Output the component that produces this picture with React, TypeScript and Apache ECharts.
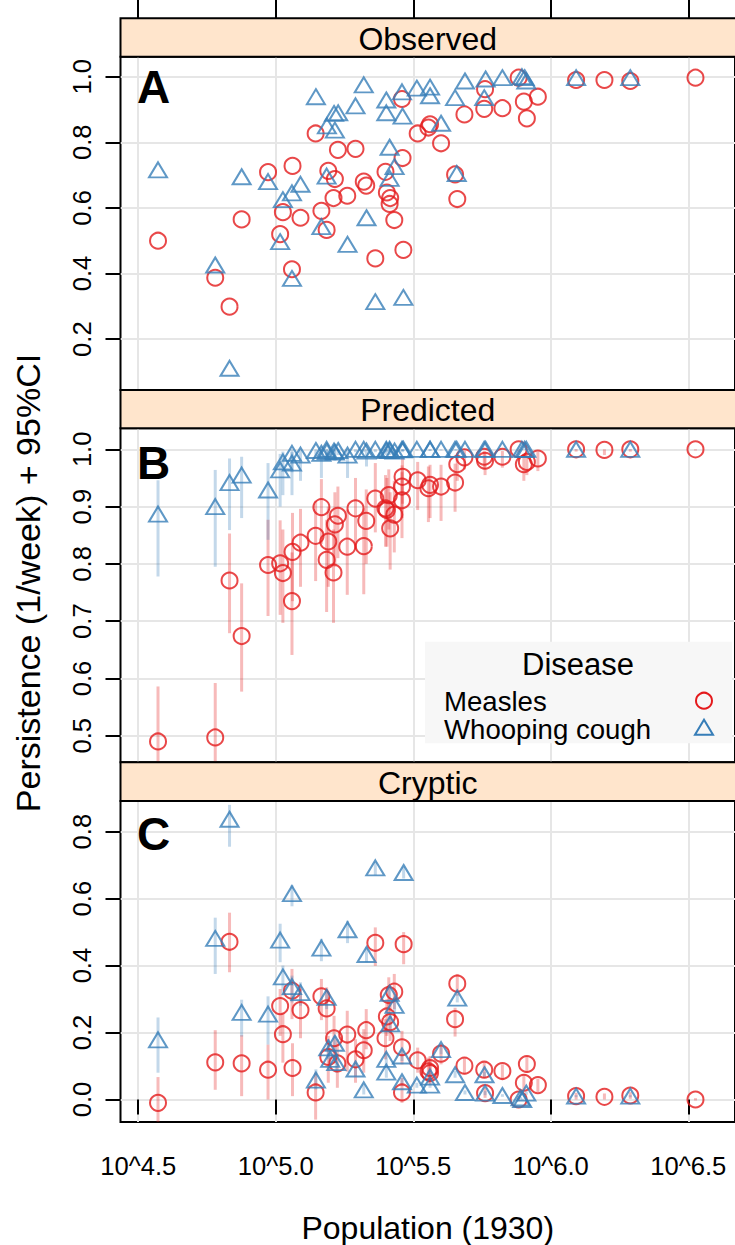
import React, { useEffect, useRef } from "react";
import * as echarts from "echarts";

// Persistence of measles and whooping cough vs. city population (log10 scale)

const RED = "#E41A1C";
const BLUE = "#377EB8";
const RED_BAR = "rgba(228,26,28,0.30)";
const BLUE_BAR = "rgba(55,126,184,0.30)";
const GRID_COLOR = "#E6E6E6";
const STRIP_FILL = "#FFE5CC";
const FONT = "'Liberation Sans', Arial, Helvetica, sans-serif";

const xTicks = [4.5, 5.0, 5.5, 6.0, 6.5];
const yTicksObserved = [0.2, 0.4, 0.6, 0.8, 1.0];
const yTicksPredicted = [0.5, 0.6, 0.7, 0.8, 0.9, 1.0];
const yTicksCryptic = [0.0, 0.2, 0.4, 0.6, 0.8];

const panelTitles = ["Observed", "Predicted", "Cryptic"];
const panelLetters = ["A", "B", "C"];
const diseases = ["Measles", "Whooping cough"];

// [log10 population, persistence]
const observedMeasles = [
  [4.572, 0.5], [4.78, 0.387], [4.832, 0.299], [4.876, 0.565], [4.972, 0.709],
  [5.016, 0.52], [5.026, 0.587], [5.059, 0.413], [5.061, 0.728], [5.09, 0.57],
  [5.145, 0.827], [5.166, 0.591], [5.185, 0.533], [5.191, 0.713], [5.21, 0.63],
  [5.215, 0.688], [5.226, 0.777], [5.26, 0.637], [5.29, 0.78], [5.32, 0.68],
  [5.329, 0.668], [5.362, 0.446], [5.399, 0.71], [5.404, 0.647], [5.414, 0.612],
  [5.416, 0.63], [5.431, 0.563], [5.459, 0.932], [5.461, 0.752], [5.464, 0.472],
  [5.516, 0.827], [5.555, 0.845], [5.561, 0.855], [5.601, 0.797], [5.652, 0.702],
  [5.66, 0.627], [5.686, 0.885], [5.758, 0.902], [5.761, 0.962], [5.824, 0.904],
  [5.883, 0.997], [5.902, 0.924], [5.913, 0.873], [5.953, 0.939], [6.092, 0.99],
  [6.195, 0.99], [6.289, 0.987], [6.526, 0.997],
];

const observedWhooping = [
  [4.572, 0.716], [4.78, 0.426], [4.832, 0.111], [4.876, 0.695], [4.972, 0.68],
  [5.016, 0.497], [5.026, 0.625], [5.059, 0.646], [5.059, 0.385], [5.09, 0.672],
  [5.146, 0.939], [5.166, 0.543], [5.185, 0.697], [5.186, 0.85], [5.212, 0.888],
  [5.215, 0.837], [5.227, 0.89], [5.261, 0.489], [5.29, 0.911], [5.32, 0.975],
  [5.33, 0.57], [5.362, 0.314], [5.402, 0.929], [5.402, 0.89], [5.414, 0.785],
  [5.414, 0.69], [5.432, 0.726], [5.459, 0.954], [5.461, 0.88], [5.464, 0.327],
  [5.513, 0.965], [5.561, 0.968], [5.561, 0.942], [5.601, 0.858], [5.652, 0.936],
  [5.658, 0.705], [5.688, 0.987], [5.763, 0.993], [5.758, 0.936], [5.824, 0.997],
  [5.895, 1.0], [5.905, 0.997], [5.911, 0.987], [6.092, 0.997], [6.289, 0.997],
];

// [log10 population, persistence, lower 95% CI, upper 95% CI]
const predictedMeasles = [
  [4.572, 0.49, 0.4, 0.586], [4.78, 0.497, 0.4, 0.592], [4.832, 0.771, 0.679, 0.853],
  [4.876, 0.674, 0.577, 0.766], [4.972, 0.798, 0.709, 0.877], [5.016, 0.801, 0.711, 0.876],
  [5.026, 0.784, 0.697, 0.86], [5.059, 0.735, 0.641, 0.82], [5.061, 0.821, 0.735, 0.889],
  [5.09, 0.837, 0.76, 0.896], [5.145, 0.849, 0.77, 0.91], [5.166, 0.899, 0.835, 0.948],
  [5.185, 0.807, 0.716, 0.877], [5.191, 0.839, 0.76, 0.9], [5.21, 0.785, 0.697, 0.86],
  [5.215, 0.869, 0.795, 0.925], [5.226, 0.884, 0.81, 0.935], [5.26, 0.83, 0.746, 0.895],
  [5.29, 0.897, 0.825, 0.95], [5.32, 0.831, 0.747, 0.897], [5.329, 0.875, 0.8, 0.93],
  [5.362, 0.914, 0.855, 0.976], [5.399, 0.897, 0.83, 0.955], [5.404, 0.894, 0.83, 0.95],
  [5.411, 0.92, 0.86, 0.965], [5.416, 0.862, 0.79, 0.925], [5.431, 0.886, 0.82, 0.945],
  [5.459, 0.911, 0.845, 0.96], [5.459, 0.935, 0.88, 0.972], [5.461, 0.952, 0.905, 0.985],
  [5.516, 0.946, 0.894, 0.978], [5.555, 0.932, 0.873, 0.97], [5.561, 0.938, 0.88, 0.973],
  [5.601, 0.935, 0.875, 0.973], [5.652, 0.942, 0.891, 0.975], [5.66, 0.974, 0.945, 0.992],
  [5.686, 0.986, 0.965, 0.997], [5.758, 0.987, 0.965, 0.997], [5.761, 0.98, 0.955, 0.994],
  [5.824, 0.987, 0.968, 0.997], [5.883, 1.0, 0.995, 1.0], [5.902, 0.974, 0.945, 0.992],
  [5.913, 0.978, 0.955, 0.993], [5.953, 0.984, 0.962, 0.996], [6.092, 1.0, 0.996, 1.0],
  [6.195, 0.999, 0.99, 1.0], [6.289, 1.0, 0.996, 1.0], [6.526, 1.0, 0.998, 1.0],
];

const predictedWhooping = [
  [4.572, 0.887, 0.778, 0.946], [4.78, 0.9, 0.795, 0.964], [4.832, 0.942, 0.859, 0.984],
  [4.876, 0.955, 0.88, 0.987], [4.972, 0.929, 0.842, 0.976], [5.016, 0.964, 0.9, 0.992],
  [5.026, 0.978, 0.92, 0.996], [5.059, 0.993, 0.96, 1.0], [5.059, 0.976, 0.92, 0.995],
  [5.09, 0.99, 0.945, 0.999], [5.146, 0.998, 0.985, 1.0], [5.166, 0.993, 0.95, 1.0],
  [5.185, 1.0, 0.99, 1.0], [5.186, 0.996, 0.98, 1.0], [5.212, 0.997, 0.985, 1.0],
  [5.215, 0.995, 0.98, 1.0], [5.227, 0.998, 0.99, 1.0], [5.261, 0.99, 0.95, 0.999],
  [5.29, 1.0, 0.995, 1.0], [5.32, 1.0, 0.995, 1.0], [5.33, 0.997, 0.97, 1.0],
  [5.362, 1.0, 0.995, 1.0], [5.402, 1.0, 0.995, 1.0], [5.402, 0.998, 0.99, 1.0],
  [5.414, 1.0, 0.995, 1.0], [5.414, 0.998, 0.99, 1.0], [5.432, 0.997, 0.99, 1.0],
  [5.459, 1.0, 0.997, 1.0], [5.461, 0.999, 0.995, 1.0], [5.464, 1.0, 0.997, 1.0],
  [5.513, 1.0, 0.998, 1.0], [5.561, 1.0, 0.998, 1.0], [5.561, 1.0, 0.997, 1.0],
  [5.601, 1.0, 0.998, 1.0], [5.652, 1.0, 0.998, 1.0], [5.658, 1.0, 0.998, 1.0],
  [5.688, 1.0, 0.999, 1.0], [5.763, 1.0, 0.999, 1.0], [5.758, 1.0, 0.999, 1.0],
  [5.824, 1.0, 0.999, 1.0], [5.895, 1.0, 0.999, 1.0], [5.905, 1.0, 0.999, 1.0],
  [5.911, 1.0, 0.999, 1.0], [6.092, 1.0, 0.999, 1.0], [6.289, 1.0, 0.999, 1.0],
];

const crypticMeasles = [
  [4.572, -0.01, -0.08, 0.067], [4.78, 0.111, 0.029, 0.207], [4.832, 0.471, 0.38, 0.558],
  [4.876, 0.108, 0.01, 0.192], [4.972, 0.089, 0.0, 0.164], [5.016, 0.279, 0.19, 0.33],
  [5.026, 0.195, 0.11, 0.26], [5.059, 0.325, 0.24, 0.39], [5.061, 0.094, 0.01, 0.168],
  [5.09, 0.267, 0.183, 0.33], [5.145, 0.021, -0.06, 0.08], [5.166, 0.308, 0.237, 0.36],
  [5.185, 0.272, 0.195, 0.335], [5.191, 0.127, 0.05, 0.19], [5.212, 0.183, 0.11, 0.25],
  [5.224, 0.108, 0.035, 0.18], [5.26, 0.194, 0.083, 0.265], [5.29, 0.12, 0.05, 0.18],
  [5.32, 0.147, 0.08, 0.21], [5.329, 0.207, 0.15, 0.27], [5.362, 0.468, 0.399, 0.514],
  [5.399, 0.183, 0.12, 0.24], [5.404, 0.248, 0.19, 0.3], [5.411, 0.312, 0.255, 0.365],
  [5.416, 0.231, 0.175, 0.285], [5.431, 0.322, 0.27, 0.375], [5.459, 0.021, -0.01, 0.065],
  [5.459, 0.156, 0.105, 0.205], [5.465, 0.464, 0.404, 0.5], [5.516, 0.117, 0.08, 0.155],
  [5.555, 0.084, 0.05, 0.125], [5.561, 0.094, 0.06, 0.13], [5.561, 0.079, 0.045, 0.115],
  [5.601, 0.137, 0.105, 0.165], [5.652, 0.24, 0.188, 0.274], [5.66, 0.346, 0.31, 0.375],
  [5.686, 0.101, 0.075, 0.125], [5.758, 0.089, 0.065, 0.11], [5.761, 0.019, 0.005, 0.035],
  [5.824, 0.085, 0.06, 0.105], [5.883, 0.0, -0.005, 0.01], [5.902, 0.05, 0.03, 0.075],
  [5.913, 0.106, 0.08, 0.13], [5.953, 0.043, 0.022, 0.062], [6.092, 0.01, 0.0, 0.02],
  [6.195, 0.008, 0.0, 0.018], [6.289, 0.012, 0.002, 0.022], [6.526, 0.0, -0.003, 0.004],
];

const crypticWhooping = [
  [4.572, 0.178, 0.08, 0.245], [4.78, 0.481, 0.375, 0.543], [4.832, 0.837, 0.755, 0.88],
  [4.876, 0.26, 0.188, 0.298], [4.972, 0.255, 0.164, 0.308], [5.016, 0.476, 0.41, 0.525],
  [5.026, 0.366, 0.31, 0.4], [5.059, 0.615, 0.577, 0.64], [5.059, 0.337, 0.29, 0.37],
  [5.09, 0.319, 0.28, 0.35], [5.146, 0.058, 0.03, 0.09], [5.166, 0.452, 0.413, 0.48],
  [5.185, 0.305, 0.27, 0.33], [5.191, 0.154, 0.12, 0.18], [5.198, 0.12, 0.09, 0.15],
  [5.215, 0.168, 0.14, 0.19], [5.22, 0.11, 0.08, 0.13], [5.261, 0.507, 0.467, 0.534],
  [5.29, 0.091, 0.07, 0.11], [5.32, 0.029, 0.015, 0.045], [5.33, 0.433, 0.41, 0.455],
  [5.362, 0.692, 0.67, 0.71], [5.402, 0.12, 0.1, 0.14], [5.402, 0.082, 0.065, 0.1],
  [5.414, 0.317, 0.29, 0.34], [5.416, 0.226, 0.2, 0.25], [5.432, 0.281, 0.26, 0.3],
  [5.459, 0.13, 0.115, 0.145], [5.459, 0.053, 0.04, 0.065], [5.465, 0.678, 0.66, 0.695],
  [5.513, 0.043, 0.035, 0.05], [5.561, 0.067, 0.055, 0.08], [5.561, 0.043, 0.035, 0.05],
  [5.601, 0.149, 0.135, 0.16], [5.652, 0.074, 0.065, 0.085], [5.66, 0.303, 0.29, 0.315],
  [5.688, 0.021, 0.015, 0.027], [5.759, 0.074, 0.065, 0.083], [5.761, 0.019, 0.013, 0.025],
  [5.824, 0.012, 0.008, 0.016], [5.89, 0.005, 0.002, 0.008], [5.896, 0.0, -0.002, 0.003],
  [5.911, 0.019, 0.014, 0.024], [6.092, 0.01, 0.007, 0.013], [6.289, 0.01, 0.007, 0.013],
];

// Layout (px)
const GRID_LEFT = 120.5;
const GRID_WIDTH = 617.5;
const PX_PER_DECADE = 276.4;
const X_MIN = 4.5 - (138.3 - GRID_LEFT) / PX_PER_DECADE;
const X_MAX = X_MIN + GRID_WIDTH / PX_PER_DECADE;

const panels = [
  { stripTop: 18.3, top: 56.7, bottom: 390, yMin: 0.0448, yMax: 1.061, ticks: yTicksObserved,
    measles: observedMeasles, whooping: observedWhooping, bars: false, letterY: 87 },
  { stripTop: 390, top: 428.3, bottom: 762.3, yMin: 0.4536, yMax: 1.0367, ticks: yTicksPredicted,
    measles: predictedMeasles, whooping: predictedWhooping, bars: true, letterY: 463 },
  { stripTop: 762.3, top: 801, bottom: 1133.3, yMin: -0.0672, yMax: 0.8915, ticks: yTicksCryptic,
    measles: crypticMeasles, whooping: crypticWhooping, bars: true, letterY: 834 },
];

const tickStyle = { color: "#000", width: 2 };
const splitStyle = { color: GRID_COLOR, width: 2 };

function ciSeries(data: number[][], color: string, idx: number) {
  return {
    type: "custom",
    xAxisIndex: idx,
    yAxisIndex: idx,
    silent: true,
    z: 1,
    data,
    encode: { x: 0, y: [1, 2, 3] },
    renderItem: (params: any, api: any) => {
      const cs = params.coordSys;
      const a = api.coord([api.value(0), api.value(2)]);
      const b = api.coord([api.value(0), api.value(3)]);
      const clamp = (v: number) => Math.min(Math.max(v, cs.y), cs.y + cs.height);
      return {
        type: "line",
        shape: { x1: a[0], y1: clamp(a[1]), x2: b[0], y2: clamp(b[1]) },
        style: { stroke: color, lineWidth: 3 },
      };
    },
  };
}

function buildOption() {
  const grid: any[] = [];
  const xAxis: any[] = [];
  const yAxis: any[] = [];
  const series: any[] = [];
  const graphic: any[] = [];

  panels.forEach((p, i) => {
    grid.push({
      left: GRID_LEFT,
      top: p.top,
      width: GRID_WIDTH,
      height: p.bottom - p.top,
      show: true,
      borderColor: "#000",
      borderWidth: 2,
      backgroundColor: "transparent",
    });

    const isTop = i === 0;
    const isBottom = i === panels.length - 1;
    xAxis.push({
      type: "value",
      gridIndex: i,
      min: X_MIN,
      max: X_MAX,
      position: isTop ? "top" : "bottom",
      offset: isTop ? p.top - p.stripTop : 0,
      axisLine: { show: false },
      axisTick: {
        show: isTop || isBottom,
        length: isTop ? 18.3 : 15,
        inside: false,
        lineStyle: tickStyle,
        customValues: xTicks,
      },
      axisLabel: {
        show: isBottom,
        customValues: xTicks,
        margin: 31,
        fontSize: 25.6,
        fontFamily: FONT,
        color: "#000",
        formatter: (v: number) => "10^" + v.toFixed(1),
      },
      splitLine: { show: true, lineStyle: splitStyle },
      name: isBottom ? "Population (1930)" : "",
      nameLocation: "middle",
      nameGap: 90,
      nameTextStyle: { fontSize: 32, fontFamily: FONT, color: "#000" },
    });

    yAxis.push({
      type: "value",
      gridIndex: i,
      min: p.yMin,
      max: p.yMax,
      axisLine: { show: false },
      axisTick: { show: true, length: 15, lineStyle: tickStyle, customValues: p.ticks },
      axisLabel: {
        customValues: p.ticks,
        rotate: 90,
        margin: 26,
        fontSize: 25.6,
        fontFamily: FONT,
        color: "#000",
        formatter: (v: number) => v.toFixed(1),
      },
      splitLine: { show: true, lineStyle: splitStyle },
    });

    if (p.bars) {
      series.push(ciSeries(p.measles, RED_BAR, i));
      series.push(ciSeries(p.whooping, BLUE_BAR, i));
    }
    series.push({
      name: diseases[0],
      type: "scatter",
      xAxisIndex: i,
      yAxisIndex: i,
      symbol: "circle",
      symbolSize: 16,
      z: 3,
      data: p.measles.map((d) => [d[0], d[1]]),
      itemStyle: { color: "rgba(0,0,0,0)", borderColor: RED, borderWidth: 2 },
    });
    series.push({
      name: diseases[1],
      type: "scatter",
      xAxisIndex: i,
      yAxisIndex: i,
      symbol: "triangle",
      symbolSize: [18, 15],
      z: 4,
      data: p.whooping.map((d) => [d[0], d[1]]),
      itemStyle: { color: "rgba(0,0,0,0)", borderColor: BLUE, borderWidth: 2 },
    });

    // strip with panel title
    graphic.push({
      type: "rect",
      z: 10,
      shape: { x: GRID_LEFT, y: p.stripTop, width: GRID_WIDTH + 10, height: p.top - p.stripTop },
      style: { fill: STRIP_FILL, stroke: "#000", lineWidth: 2 },
    });
    graphic.push({
      type: "text",
      z: 11,
      x: GRID_LEFT + (735 - GRID_LEFT) / 2,
      y: (p.stripTop + p.top) / 2 + 1,
      style: {
        text: panelTitles[i],
        fontSize: 32,
        fontFamily: FONT,
        fill: "#000",
        align: "center",
        verticalAlign: "middle",
        textAlign: "center",
        textVerticalAlign: "middle",
      },
    });
    // panel letter
    graphic.push({
      type: "text",
      z: 11,
      x: 137,
      y: p.letterY,
      style: {
        text: panelLetters[i],
        fontSize: 46,
        fontWeight: "bold",
        fontFamily: FONT,
        fill: "#000",
        align: "left",
        verticalAlign: "middle",
        textAlign: "left",
        textVerticalAlign: "middle",
      },
    });
  });

  // y-axis title
  graphic.push({
    type: "text",
    z: 11,
    x: 28,
    y: 583,
    rotation: Math.PI / 2,
    style: {
      text: "Persistence (1/week) + 95%CI",
      fontSize: 34,
      fontFamily: FONT,
      fill: "#000",
      align: "center",
      verticalAlign: "middle",
      textAlign: "center",
      textVerticalAlign: "middle",
    },
  });

  // key inside the predicted panel
  const legendText = (text: string, x: number, y: number, size: number, align: string) => ({
    type: "text",
    z: 21,
    x,
    y,
    style: {
      text,
      fontSize: size,
      fontFamily: FONT,
      fill: "#000",
      align,
      verticalAlign: "middle",
      textAlign: align,
      textVerticalAlign: "middle",
    },
  });
  graphic.push({
    type: "rect",
    z: 20,
    shape: { x: 425, y: 641.7, width: 307, height: 101.6 },
    style: { fill: "#F7F7F7", stroke: null },
  });
  graphic.push(legendText("Disease", 578, 664, 31, "center"));
  graphic.push(legendText(diseases[0], 444, 701.3, 27.6, "left"));
  graphic.push(legendText(diseases[1], 444, 729.7, 27.6, "left"));
  graphic.push({
    type: "circle",
    z: 21,
    shape: { cx: 704, cy: 700.7, r: 8 },
    style: { fill: "none", stroke: RED, lineWidth: 2 },
  });
  graphic.push({
    type: "polygon",
    z: 21,
    shape: { points: [[695, 734.8], [713, 734.8], [704, 719.8]] },
    style: { fill: "none", stroke: BLUE, lineWidth: 2 },
  });

  return {
    animation: false,
    backgroundColor: "#fff",
    textStyle: { fontFamily: FONT },
    grid,
    xAxis,
    yAxis,
    series,
    graphic,
  };
}

export default function App() {
  const ref = useRef<HTMLDivElement>(null);
  useEffect(() => {
    if (!ref.current) return;
    const chart = echarts.init(ref.current, null, { renderer: "svg" });
    chart.setOption(buildOption() as any);
    return () => chart.dispose();
  }, []);
  return (
    <div
      ref={ref}
      style={{ position: "absolute", left: 0, top: 0, width: 735, height: 1245, overflow: "hidden" }}
    />
  );
}
